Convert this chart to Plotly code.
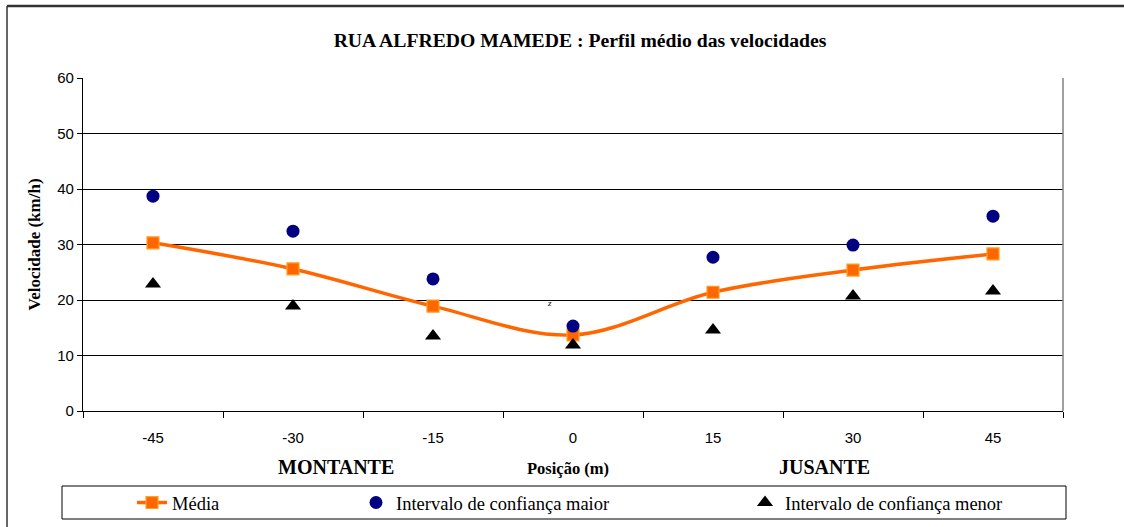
import plotly.graph_objects as go

positions = ["-45", "-30", "-15", "0", "15", "30", "45"]
media = [30.3, 25.6, 18.9, 13.7, 21.4, 25.4, 28.3]
ic_maior = [38.7, 32.4, 23.8, 15.3, 27.7, 29.9, 35.1]
ic_menor = [22.9, 18.9, 13.5, 11.9, 14.6, 20.7, 21.6]
y_ticks = [0, 10, 20, 30, 40, 50, 60]

SERIF = "Liberation Serif"
SANS = "Liberation Sans"

fig = go.Figure()
fig.add_trace(go.Scatter(
    x=positions, y=media, name="Média", mode="lines+markers",
    line=dict(color="#FF6600", width=3.5, shape="spline", smoothing=1.0),
    marker=dict(symbol="square", size=12, color="#FF6600",
                line=dict(color="#FFA020", width=1.2)),
    legend="legend"))
fig.add_trace(go.Scatter(
    x=positions, y=ic_maior, name="Intervalo de confiança maior", mode="markers",
    marker=dict(symbol="circle", size=13, color="#000080"),
    legend="legend2"))
fig.add_trace(go.Scatter(
    x=positions, y=ic_menor, name="Intervalo de confiança menor", mode="markers",
    marker=dict(symbol="triangle-up", size=14, color="#000000"),
    legend="legend3"))

legend_common = dict(orientation="h", yref="container", yanchor="middle", y=1-503/527,
                     xanchor="left",
                     font=dict(family=SERIF, size=18.5, color="#000"),
                     bgcolor="rgba(0,0,0,0)", borderwidth=0)

fig.update_layout(
    width=1124, height=527,
    margin=dict(l=83, r=61, t=78, b=116),
    paper_bgcolor="white", plot_bgcolor="white",
    title=dict(text="<b>RUA ALFREDO MAMEDE : Perfil médio das velocidades</b>",
               x=580/1124, xanchor="center", y=1-40/527, yanchor="middle",
               font=dict(family=SERIF, size=19.7, color="#000")),
    xaxis=dict(type="category", categoryorder="array", categoryarray=positions,
               range=[-0.5, 6.5], showgrid=False, ticks="outside", tickson="boundaries",
               ticklen=6, tickcolor="#000", showline=True, linecolor="#000", linewidth=1.3,
               mirror=False, ticklabelstandoff=13,
               tickfont=dict(family=SANS, size=15, color="#000")),
    yaxis=dict(range=[0, 60], tickvals=y_ticks, showgrid=True, gridcolor="#000",
               gridwidth=1, ticks="outside", ticklen=5, tickcolor="#000",
               showline=True, linecolor="#000", linewidth=1.3, zeroline=False,
               tickfont=dict(family=SANS, size=15, color="#000"),
               title=dict(text="<b>Velocidade (km/h)</b>", standoff=12,
                          font=dict(family=SERIF, size=17, color="#000"))),
    legend=dict(x=(132-83)/980, **legend_common),
    legend2=dict(x=(356-83)/980, **legend_common),
    legend3=dict(x=(745-83)/980, **legend_common),
    showlegend=True,
)

# right border of plot area (gray)
fig.add_shape(type="line", xref="paper", yref="paper", x0=1, x1=1, y0=0, y1=1,
              line=dict(color="#808080", width=1.5))
# legend box
fig.add_shape(type="rect", xref="paper", yref="paper",
              x0=(62-83)/980, x1=(1066-83)/980, y0=(411-486)/333, y1=(411-519)/333,
              line=dict(color="#000", width=1))
# outer chart border
fig.add_shape(type="line", xref="paper", yref="paper",
              x0=(7-83)/980, x1=(1124-83)/980, y0=(411-6)/333, y1=(411-6)/333,
              line=dict(color="#333", width=2.5))
fig.add_shape(type="line", xref="paper", yref="paper",
              x0=(7-83)/980, x1=(7-83)/980, y0=(411-6)/333, y1=(411-540)/333,
              line=dict(color="#333", width=1.5))

ann_font = dict(family=SERIF, size=20, color="#000")
common_ann = dict(xref="paper", yref="paper", showarrow=False,
                  xanchor="center", yanchor="middle")
fig.add_annotation(text="<b>MONTANTE</b>", x=(336-83)/980, y=(411-467)/333,
                   font=ann_font, **common_ann)
fig.add_annotation(text="<b>JUSANTE</b>", x=(824-83)/980, y=(411-467)/333,
                   font=ann_font, **common_ann)
fig.add_annotation(text="<b>Posição (m)</b>", x=(568-83)/980, y=(411-468)/333,
                   font=dict(family=SERIF, size=16.5, color="#000"), **common_ann)
fig.add_annotation(text="<i>z</i>", x=(549-83)/980, y=(411-303)/333,
                   font=dict(family=SERIF, size=9, color="#000"), **common_ann)

fig.write_html("out.html", config={"displayModeBar": False},
               post_script="document.body.style.margin='0';document.body.style.overflow='hidden';")
